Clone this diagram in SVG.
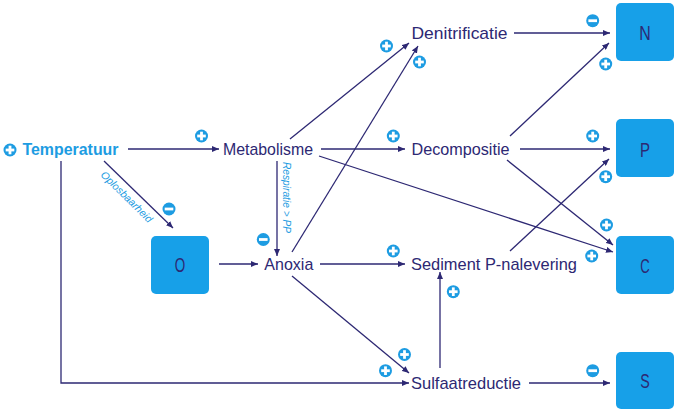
<svg xmlns="http://www.w3.org/2000/svg" xmlns:xlink="http://www.w3.org/1999/xlink" width="678" height="414" viewBox="0 0 678 414">
<style>
.lbl{font-family:"Liberation Sans",Arial,sans-serif;font-size:17px;fill:#2d2873}
.temp{font-family:"Liberation Sans",Arial,sans-serif;font-size:17px;font-weight:bold;fill:#1d9ce2}
.box{fill:#17a0e8}
.boxt{font-family:"Liberation Sans",Arial,sans-serif;font-size:20px;fill:#2d2873;text-anchor:middle}
.note{font-family:"Liberation Sans",Arial,sans-serif;font-size:10.5px;font-style:italic;fill:#1d9ce2}
.con{stroke:#2d2873;stroke-width:1.3;fill:none;marker-end:url(#arr)}
</style>
<defs>
<marker id="arr" markerUnits="userSpaceOnUse" markerWidth="8" markerHeight="6" refX="7" refY="3" orient="auto">
<path d="M0,0 L7,3 L0,6 Z" fill="#2d2873"/>
</marker>
<g id="plus">
<circle r="6.5" fill="#1d9ce2"/>
<rect x="-4.3" y="-1.4" width="8.6" height="2.8" fill="#fff"/>
<rect x="-1.4" y="-4.3" width="2.8" height="8.6" fill="#fff"/>
</g>
<g id="minus">
<circle r="6.5" fill="#1d9ce2"/>
<rect x="-4.3" y="-1.4" width="8.6" height="2.8" fill="#fff"/>
</g>
</defs>
<rect width="678" height="414" fill="#fff"/>

<g id="connectors">
<path class="con" d="M128,149 L219,149"/>
<path class="con" d="M104,161 L173,228"/>
<path class="con" d="M61,161 V383 H409"/>
<path class="con" d="M219,264 L258,264"/>
<path class="con" d="M277,161 L277,256"/>
<path class="con" d="M290,139 L409,43"/>
<path class="con" d="M292,252 L418,46"/>
<path class="con" d="M321,149 L405,149"/>
<path class="con" d="M319,156 L613,252"/>
<path class="con" d="M320,264 L405,264"/>
<path class="con" d="M292,276 L409,373"/>
<path class="con" d="M440,368 L440,272"/>
<path class="con" d="M510,251 L609,159"/>
<path class="con" d="M510,136 L609,43"/>
<path class="con" d="M520,149 L610,149"/>
<path class="con" d="M507,160 L613,245"/>
<path class="con" d="M514,33 L610,33"/>
<path class="con" d="M529,383 L610,383"/>
<text class="note" transform="translate(100,175.5) rotate(44.6)" textLength="68" lengthAdjust="spacingAndGlyphs">Oplosbaarheid</text>
<text class="note" transform="translate(283,162) rotate(90)" textLength="71" lengthAdjust="spacingAndGlyphs">Respiratie &gt; PP</text>
</g>

<g id="signs">
<use xlink:href="#plus" x="10" y="150"/>
<use xlink:href="#plus" x="201.5" y="136"/>
<use xlink:href="#minus" x="169" y="209"/>
<use xlink:href="#minus" x="263.3" y="239.5"/>
<use xlink:href="#plus" x="386.5" y="46"/>
<use xlink:href="#plus" x="419.5" y="62"/>
<use xlink:href="#plus" x="393.3" y="136"/>
<use xlink:href="#plus" x="393.3" y="251"/>
<use xlink:href="#plus" x="404.5" y="354.5"/>
<use xlink:href="#plus" x="385.5" y="370.7"/>
<use xlink:href="#plus" x="453.3" y="291.7"/>
<use xlink:href="#minus" x="592.7" y="20.7"/>
<use xlink:href="#plus" x="605.7" y="64"/>
<use xlink:href="#plus" x="592.7" y="136"/>
<use xlink:href="#plus" x="605.7" y="176.7"/>
<use xlink:href="#plus" x="606.5" y="225"/>
<use xlink:href="#plus" x="591.7" y="256"/>
<use xlink:href="#minus" x="592.7" y="370.7"/>
</g>

<g id="temperatuur"><text class="temp" x="22.5" y="155" textLength="96" lengthAdjust="spacingAndGlyphs">Temperatuur</text></g>
<g id="metabolisme"><text class="lbl" x="223" y="155" textLength="90" lengthAdjust="spacingAndGlyphs">Metabolisme</text></g>
<g id="anoxia"><text class="lbl" x="264.3" y="270" textLength="49" lengthAdjust="spacingAndGlyphs">Anoxia</text></g>
<g id="denitrificatie"><text class="lbl" x="411.5" y="39" textLength="96" lengthAdjust="spacingAndGlyphs">Denitrificatie</text></g>
<g id="decompositie"><text class="lbl" x="411.5" y="155" textLength="98" lengthAdjust="spacingAndGlyphs">Decompositie</text></g>
<g id="sediment"><text class="lbl" x="411" y="269.5" textLength="166" lengthAdjust="spacingAndGlyphs">Sediment P-nalevering</text></g>
<g id="sulfaatreductie"><text class="lbl" x="411" y="389.3" textLength="110" lengthAdjust="spacingAndGlyphs">Sulfaatreductie</text></g>

<g id="box-O"><rect class="box" x="151" y="236" width="58" height="58" rx="5"/><text class="boxt" x="180" y="271.5" textLength="10.5" lengthAdjust="spacingAndGlyphs">O</text></g>
<g id="box-N"><rect class="box" x="616" y="3" width="58" height="58" rx="5"/><text class="boxt" x="645" y="39.5" textLength="11.5" lengthAdjust="spacingAndGlyphs">N</text></g>
<g id="box-P"><rect class="box" x="616" y="119" width="58" height="58" rx="5"/><text class="boxt" x="645" y="156.5" textLength="10" lengthAdjust="spacingAndGlyphs">P</text></g>
<g id="box-C"><rect class="box" x="616" y="236" width="58" height="58" rx="5"/><text class="boxt" x="645" y="273" textLength="9.5" lengthAdjust="spacingAndGlyphs">C</text></g>
<g id="box-S"><rect class="box" x="616" y="352" width="58" height="57" rx="5"/><text class="boxt" x="645" y="387.5" textLength="9.5" lengthAdjust="spacingAndGlyphs">S</text></g>
</svg>
